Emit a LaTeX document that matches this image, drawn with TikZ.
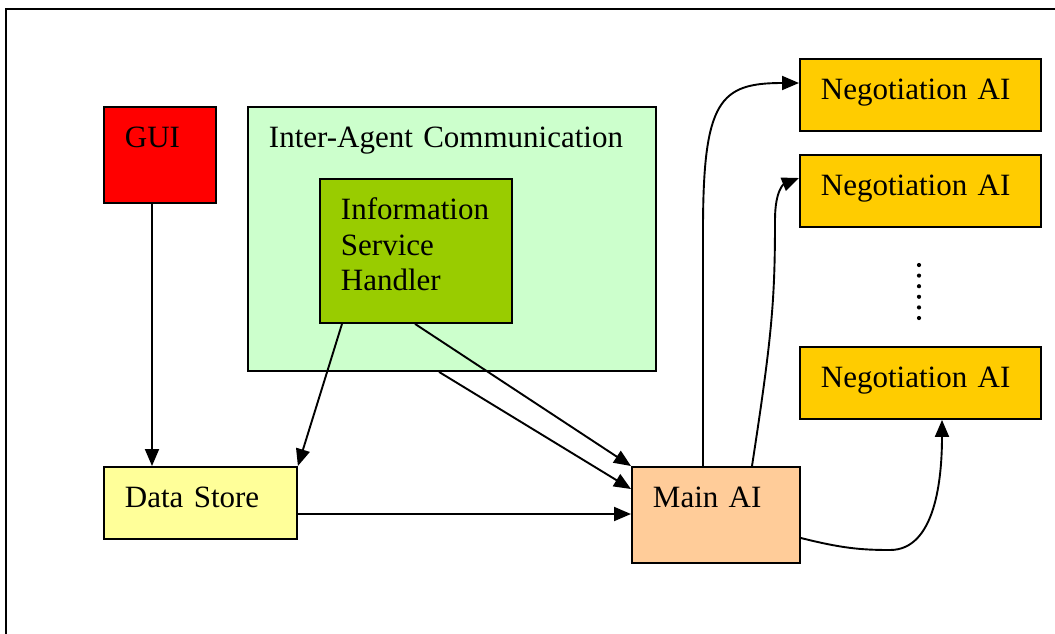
\documentclass[tikz,border=0pt]{standalone}
\usepackage{fontspec}
\setmainfont{Liberation Serif}
\usepackage{tikz}
\usetikzlibrary{arrows.meta,positioning,calc}
\definecolor{guired}{HTML}{FF0000}
\definecolor{iacgreen}{HTML}{CCFFCC}
\definecolor{ishgreen}{HTML}{99CC00}
\definecolor{storeyellow}{HTML}{FFFF99}
\definecolor{mainorange}{HTML}{FFCC99}
\definecolor{neggold}{HTML}{FFCC00}

\begin{document}
\begin{tikzpicture}[x=1pt, y=-1pt, line width=1.9pt,
    blk/.style={draw, anchor=north west, align=left, inner xsep=21pt, inner ysep=0pt,
      text height=41pt, font=\fontsize{31}{35.5}\selectfont},
    link/.style={-{Triangle[length=17pt,width=14pt]}}]
      \clip (0,0) rectangle (1055,633);
      \fill[white] (0,0) rectangle (1055,633);
      \draw (6,9) rectangle (1100,700);

      \node[blk, fill=guired, text width=70pt, text depth=55pt] (gui) at (103,106) {GUI};
      \node[blk, fill=iacgreen, text width=366pt, text depth=223pt] (iac) at (247,106) {Inter-Agent Communication};
      \node[blk, fill=ishgreen, text width=150pt, text depth=103pt] (ish) at (319,178) {Information\\Service\\Handler};
      \node[blk, fill=storeyellow, text width=151pt, text depth=31pt] (store) at (103,466) {Data Store};
      \node[blk, fill=mainorange, text width=126pt, text depth=55pt] (main) at (631,466) {Main AI};
      \node[blk, fill=neggold, text width=199pt, text depth=31pt] (neg1) at (799,58) {Negotiation AI};
      \node[blk, fill=neggold, text width=199pt, text depth=31pt] (neg2) at (799,154) {Negotiation AI};
      \node[blk, fill=neggold, text width=199pt, text depth=31pt] (neg3) at (799,346) {Negotiation AI};

      % more negotiators
      \foreach \k in {0,...,5}
        \fill (919,{265+10.6*\k}) circle (2.1);

      \draw[link] ([xshift=49pt]gui.south west) -- ([xshift=49pt]store.north west);
      \draw[link] ([xshift=23pt]ish.south west) -- (store.north east);
      \draw[link] ([xshift=96pt]ish.south west) -- (main.north west);
      \draw[link] ([xshift=192pt]iac.south west) -- ([yshift=-23pt]main.north west);
      \draw[link] ([yshift=-48pt]store.north east) -- ([yshift=-48pt]main.north west);

      \coordinate (kink) at (775,220);
      \coordinate (dip) at (890,550);
      \draw[link] ([xshift=72pt]main.north west) -- ++(0,-236)
        .. controls +(0,-130) and +(-79,0) .. ([yshift=-25pt]neg1.north west);
      \draw[link] ([xshift=121pt]main.north west) .. controls +(20,-130) and +(0,80) .. (kink)
        .. controls +(0,-30) and +(-15,6) .. ([yshift=-24pt]neg2.north west);
      \draw[link] ([yshift=-72pt]main.north east) .. controls +(40,10) and +(-30,0) .. (dip)
        .. controls +(45,0) and +(0,60) .. ([xshift=143pt]neg3.south west);
    \end{tikzpicture}
\end{document}
